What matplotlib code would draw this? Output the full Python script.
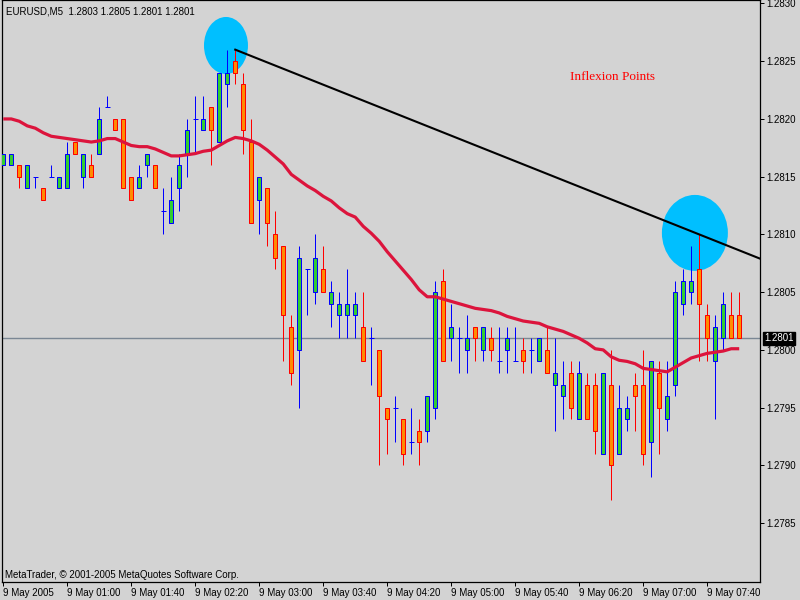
import numpy as np
import matplotlib.pyplot as plt
from matplotlib.patches import Ellipse
from matplotlib.transforms import blended_transform_factory

symbol = "EURUSD,M5"

opens = [1.2816, 1.2816, 1.2816, 1.2814, 1.2815, 1.2814, 1.2815, 1.2814, 1.2814, 1.2818,
         1.2815, 1.2816, 1.2817, 1.2821, 1.2820, 1.2820, 1.2815, 1.2814, 1.2816, 1.2816,
         1.2812, 1.2811, 1.2814, 1.2817, 1.2820, 1.2819, 1.2821, 1.2818, 1.2823, 1.2825,
         1.2823, 1.2818, 1.2813, 1.2814, 1.2810, 1.2809, 1.2802, 1.2800, 1.2807, 1.2805,
         1.2807, 1.2804, 1.2803, 1.2803, 1.2803, 1.2802, 1.2801, 1.2800, 1.2795, 1.2795,
         1.2794, 1.2792, 1.2793, 1.2793, 1.2795, 1.2806, 1.2801, 1.2801, 1.2800, 1.2802,
         1.2800, 1.2801, 1.2799, 1.2800, 1.2799, 1.2800, 1.2800, 1.2799, 1.2800, 1.2797,
         1.2796, 1.2798, 1.2794, 1.2797, 1.2797, 1.2791, 1.2797, 1.2791, 1.2794, 1.2797,
         1.2797, 1.2792, 1.2798, 1.2794, 1.2797, 1.2804, 1.2805, 1.2807, 1.2803, 1.2799,
         1.2801, 1.2803, 1.2803]

highs = [1.2817, 1.2817, 1.2816, 1.2816, 1.2815, 1.2814, 1.2816, 1.2815, 1.2818, 1.2818,
         1.2817, 1.2817, 1.2821, 1.2822, 1.2820, 1.2820, 1.2815, 1.2816, 1.2817, 1.2816,
         1.2814, 1.2815, 1.2817, 1.2820, 1.2822, 1.2822, 1.2821, 1.2824, 1.2826, 1.2826,
         1.2824, 1.2820, 1.2815, 1.2814, 1.2812, 1.2809, 1.2803, 1.2809, 1.2807, 1.2810,
         1.2809, 1.2806, 1.2805, 1.2807, 1.2805, 1.2805, 1.2802, 1.2800, 1.2795, 1.2796,
         1.2794, 1.2795, 1.2794, 1.2796, 1.2806, 1.2807, 1.2804, 1.2802, 1.2803, 1.2802,
         1.2802, 1.2802, 1.2802, 1.2802, 1.2802, 1.2801, 1.2801, 1.2801, 1.2802, 1.2801,
         1.2799, 1.2799, 1.2799, 1.2798, 1.2798, 1.2798, 1.2800, 1.2797, 1.2796, 1.2798,
         1.2800, 1.2799, 1.2799, 1.2799, 1.2806, 1.2807, 1.2809, 1.2810, 1.2804, 1.2803,
         1.2805, 1.2805, 1.2805]

lows = [1.2816, 1.2816, 1.2814, 1.2814, 1.2814, 1.2813, 1.2815, 1.2814, 1.2814, 1.2817,
        1.2814, 1.2815, 1.2817, 1.2821, 1.2819, 1.2814, 1.2813, 1.2814, 1.2815, 1.2814,
        1.2810, 1.2811, 1.2812, 1.2815, 1.2817, 1.2819, 1.2816, 1.2818, 1.2821, 1.2823,
        1.2817, 1.2811, 1.2810, 1.2809, 1.2807, 1.2799, 1.2797, 1.2795, 1.2803, 1.2804,
        1.2805, 1.2802, 1.2801, 1.2801, 1.2801, 1.2799, 1.2797, 1.2790, 1.2791, 1.2792,
        1.2790, 1.2791, 1.2790, 1.2792, 1.2794, 1.2799, 1.2799, 1.2798, 1.2798, 1.2799,
        1.2799, 1.2799, 1.2798, 1.2798, 1.2799, 1.2798, 1.2798, 1.2799, 1.2798, 1.2793,
        1.2794, 1.2794, 1.2794, 1.2794, 1.2791, 1.2791, 1.2787, 1.2791, 1.2793, 1.2793,
        1.2790, 1.2789, 1.2791, 1.2793, 1.2796, 1.2803, 1.2804, 1.2799, 1.2799, 1.2794,
        1.2800, 1.2801, 1.2801]

closes = [1.2817, 1.2817, 1.2815, 1.2816, 1.2815, 1.2813, 1.2815, 1.2815, 1.2817, 1.2817,
          1.2817, 1.2815, 1.2820, 1.2821, 1.2819, 1.2814, 1.2813, 1.2815, 1.2817, 1.2814,
          1.2812, 1.2813, 1.2816, 1.2819, 1.2820, 1.2820, 1.2819, 1.2824, 1.2824, 1.2824,
          1.2819, 1.2811, 1.2815, 1.2811, 1.2808, 1.2803, 1.2798, 1.2808, 1.2807, 1.2808,
          1.2805, 1.2805, 1.2804, 1.2804, 1.2804, 1.2799, 1.2801, 1.2796, 1.2794, 1.2795,
          1.2791, 1.2792, 1.2792, 1.2796, 1.2805, 1.2799, 1.2802, 1.2801, 1.2801, 1.2801,
          1.2802, 1.2800, 1.2799, 1.2801, 1.2799, 1.2799, 1.2800, 1.2801, 1.2798, 1.2798,
          1.2797, 1.2795, 1.2798, 1.2794, 1.2793, 1.2798, 1.2790, 1.2795, 1.2795, 1.2796,
          1.2791, 1.2799, 1.2795, 1.2796, 1.2805, 1.2806, 1.2806, 1.2804, 1.2801, 1.2802,
          1.2804, 1.2801, 1.2801]

moving_avg = [1.28200, 1.28200, 1.28198, 1.28194, 1.28192, 1.28188, 1.28185, 1.28184, 1.28183, 1.28182,
              1.28181, 1.28180, 1.28181, 1.28183, 1.28183, 1.28180, 1.28177, 1.28176, 1.28176, 1.28174,
              1.28171, 1.28168, 1.28168, 1.28169, 1.28170, 1.28172, 1.28173, 1.28177, 1.28181, 1.28184,
              1.28183, 1.28181, 1.28178, 1.28173, 1.28167, 1.28161, 1.28152, 1.28147, 1.28142, 1.28138,
              1.28133, 1.28129, 1.28123, 1.28118, 1.28115, 1.28107, 1.28101, 1.28094, 1.28085, 1.28077,
              1.28069, 1.28061, 1.28052, 1.28046, 1.28046, 1.28044, 1.28042, 1.28040, 1.28038, 1.28036,
              1.28035, 1.28034, 1.28032, 1.28029, 1.28027, 1.28025, 1.28024, 1.28023, 1.28020, 1.28018,
              1.28016, 1.28013, 1.28010, 1.28006, 1.28001, 1.28000, 1.27994, 1.27991, 1.27990, 1.27988,
              1.27984, 1.27983, 1.27982, 1.27981, 1.27985, 1.27989, 1.27993, 1.27995, 1.27997, 1.27998,
              1.27999, 1.28001, 1.28001]

time_labels = ["9 May 2005", "9 May 01:00", "9 May 01:40", "9 May 02:20", "9 May 03:00",
               "9 May 03:40", "9 May 04:20", "9 May 05:00", "9 May 05:40", "9 May 06:20",
               "9 May 07:00", "9 May 07:40"]
bars_per_label = 8

# trend line drawn between the highs of these two bars
trend_bars = (29, 87)

# highlighted spots: (bar centre, price centre, width in bars, height in price)
spots = [(27.84, 1.282636, 5.5, 0.000494),
         (86.46, 1.281013, 8.25, 0.000658)]

BG = "#d3d3d3"
BULL_FACE, BULL_EDGE = "#32cd32", "#0000ff"
BEAR_FACE, BEAR_EDGE = "#ff8c00", "#ff0000"
PX = 0.72  # one pixel in points


def draw_candles(ax, o, h, l, c, width=0.5):
    o, h, l, c = map(np.asarray, (o, h, l, c))
    x = np.arange(len(o))
    bull = c >= o
    wick_colors = np.where(bull, BULL_EDGE, BEAR_EDGE)
    ax.vlines(x, l, h, colors=wick_colors, linewidth=PX, zorder=3)

    body = c != o
    bottoms = np.minimum(o, c)
    heights = np.abs(c - o)
    for sel, face, edge in ((body & bull, BULL_FACE, BULL_EDGE),
                            (body & ~bull, BEAR_FACE, BEAR_EDGE)):
        ax.bar(x[sel], heights[sel], width=width, bottom=bottoms[sel],
               color=face, edgecolor=edge, linewidth=PX, zorder=4)

    doji = ~body
    ax.hlines(o[doji], x[doji] - 0.3, x[doji] + 0.3, colors=BULL_EDGE,
              linewidth=PX, zorder=4)


def plot_chart():
    fig = plt.figure(figsize=(8, 6), dpi=100, facecolor=BG)
    ax = fig.add_axes([2 / 800, 18 / 600, 758 / 800, 582 / 600], facecolor=BG)
    ax.set_xlim(-0.16, 94.6)
    ax.set_ylim(1.27799, 1.28303)

    for cx, cy, w, hgt in spots:
        ax.add_patch(Ellipse((cx, cy), w, hgt, facecolor="#00bfff",
                             edgecolor="none", zorder=1))

    last = closes[-1]
    ax.axhline(last, color="#7b8794", linewidth=1.0, zorder=2)

    draw_candles(ax, opens, highs, lows, closes)

    ax.plot(np.arange(len(moving_avg)), moving_avg, color="#dc143c",
            linewidth=2.3, zorder=5, solid_capstyle="butt")

    b0, b1 = trend_bars
    slope = (highs[b1] - highs[b0]) / (b1 - b0)
    tx = np.array([b0, 96])
    ax.plot(tx, highs[b0] + slope * (tx - b0), color="black", linewidth=1.5,
            zorder=6)

    ax.text(76.1, 1.28236, "Inflexion Points", color="red",
            fontfamily="Liberation Serif", fontsize=9.5, ha="center",
            va="center", zorder=7)

    # price axis on the right
    ax.yaxis.tick_right()
    yt = np.round(np.arange(1.2785, 1.28301, 0.0005), 4)
    ax.set_yticks(yt)
    ax.set_yticklabels([f"{t:.4f}" for t in yt], fontfamily="Liberation Sans")
    ax.tick_params(axis="y", direction="out", length=3, width=PX, pad=1.5,
                   labelsize=7)

    xt = np.arange(len(time_labels)) * bars_per_label
    ax.set_xticks(xt)
    ax.set_xticklabels(time_labels, ha="left", fontfamily="Liberation Sans")
    ax.tick_params(axis="x", direction="out", length=3, width=PX, pad=1.5,
                   labelsize=7)

    for s in ax.spines.values():
        s.set_color("black")
        s.set_linewidth(0.9)

    trans = blended_transform_factory(ax.transAxes, ax.transData)
    ax.text(1.0 + 4 / 758, last, f"{last:.4f}", transform=trans, color="white",
            fontsize=7, fontfamily="Liberation Sans", ha="left", va="center",
            bbox=dict(facecolor="black", edgecolor="black", pad=1.0),
            clip_on=False, zorder=8)

    header = f"{symbol}  {opens[-1]:.4f} {highs[-1]:.4f} {lows[-1]:.4f} {closes[-1]:.4f}"
    fig.text(6 / 800, 1 - 11 / 600, header, fontsize=7,
             fontfamily="Liberation Sans", ha="left", va="center")
    fig.text(5 / 800, 1 - 575 / 600,
             "MetaTrader, \u00a9 2001-2005 MetaQuotes Software Corp.",
             fontsize=7, fontfamily="Liberation Sans", ha="left", va="center")

    fig.savefig("out.png", dpi=100, facecolor=BG)


if __name__ == "__main__":
    plot_chart()
